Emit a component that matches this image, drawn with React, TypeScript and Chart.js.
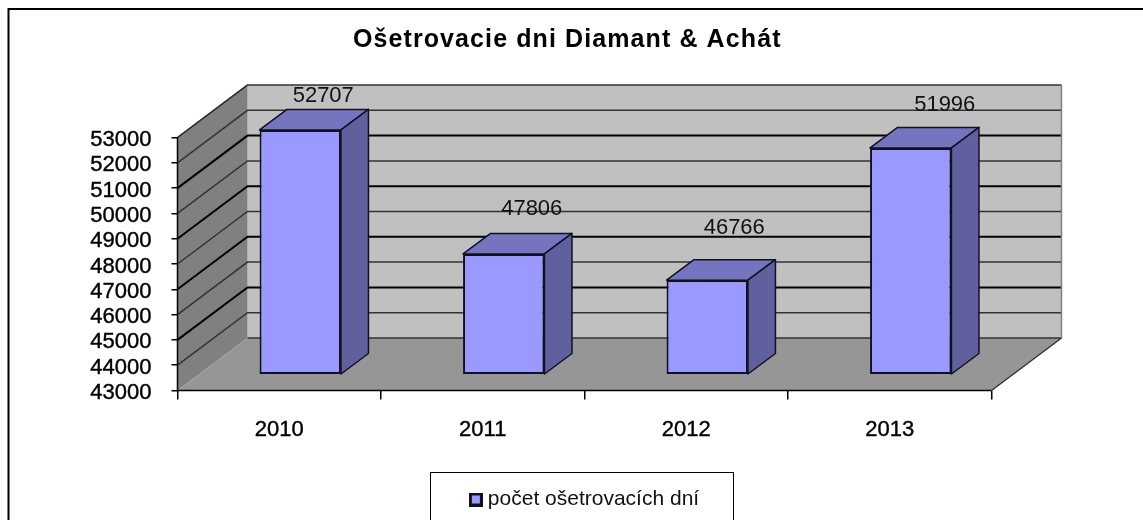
import React, { useEffect, useRef } from "react";
import { Chart, registerables } from "chart.js";

Chart.register(...registerables);

const categories = ["2010", "2011", "2012", "2013"];
const seriesName = "počet ošetrovacích dní";
const seriesValues = [52707, 47806, 46766, 51996];
const titleText = "Ošetrovacie dni Diamant & Achát";
const axisMin = 43000;
const axisMax = 53000;
const axisStep = 1000;

const FONT = "'Liberation Sans', Arial, sans-serif";
const depth = { dx: 70, dy: -52.5 };
const barShift = { dx: 21, dy: -15 };
const barDepth = { dx: 27.5, dy: -20.5 };
const labelNudge = [
  [23, -33.5],
  [28, -45],
  [27, -52],
  [34, -42.5],
];

function legendSwatch() {
  const c = document.createElement("canvas");
  c.width = 14;
  c.height = 14;
  const g = c.getContext("2d") as CanvasRenderingContext2D;
  g.fillStyle = "#111122";
  g.fillRect(0, 0, 14, 14);
  g.fillStyle = "#9999ff";
  g.fillRect(3, 3, 8, 8);
  return c;
}

const scene = {
  id: "scene3d",
  afterLayout(chart: any) {
    // Title and legend sit off the canvas centre in the reference.
    const tb = chart.titleBlock;
    if (tb) {
      tb.left += 71.5;
      tb.right += 71.5;
      if (!tb.__spaced) {
        tb.__spaced = true;
        const draw = tb.draw;
        tb.draw = function (...args: any[]) {
          const c = this.ctx;
          c.letterSpacing = "1.1px";
          draw.apply(this, args);
          c.letterSpacing = "0px";
        };
      }
    }
    if (chart.legend) {
      chart.legend.left += 91;
      chart.legend.right += 91;
    }
  },
  beforeDatasetsDraw(chart: any) {
    const { ctx, chartArea: a, scales } = chart;
    const y = scales.y;
    const { dx, dy } = depth;
    ctx.save();
    // page frame: left and top edges only, the rest runs off the picture
    ctx.strokeStyle = "#000000";
    ctx.lineWidth = 2;
    ctx.beginPath();
    ctx.moveTo(8.5, 530);
    ctx.lineTo(8.5, 9);
    ctx.lineTo(1150, 9);
    ctx.stroke();
    // back wall
    ctx.fillStyle = "#c0c0c0";
    ctx.fillRect(a.left + dx, a.top + dy, a.right - a.left, a.bottom - a.top);
    // side wall
    ctx.fillStyle = "#808080";
    ctx.beginPath();
    ctx.moveTo(a.left, a.top);
    ctx.lineTo(a.left + dx, a.top + dy);
    ctx.lineTo(a.left + dx, a.bottom + dy);
    ctx.lineTo(a.left, a.bottom);
    ctx.closePath();
    ctx.fill();
    // floor
    ctx.fillStyle = "#969696";
    ctx.beginPath();
    ctx.moveTo(a.left, a.bottom);
    ctx.lineTo(a.right, a.bottom);
    ctx.lineTo(a.right + dx, a.bottom + dy);
    ctx.lineTo(a.left + dx, a.bottom + dy);
    ctx.closePath();
    ctx.fill();
    // grid lines
    y.ticks.forEach((t: any) => {
      const py = y.getPixelForValue(t.value);
      const heavy = t.value % 2000 === 1000 && t.value !== axisMax && t.value !== axisMin;
      ctx.strokeStyle = heavy ? "#000000" : "#333333";
      ctx.lineWidth = heavy ? 2 : 1.5;
      ctx.beginPath();
      if (t.value !== axisMin) {
        ctx.moveTo(a.left, py);
        ctx.lineTo(a.left + dx, py + dy);
      } else {
        ctx.moveTo(a.left + dx, py + dy);
      }
      ctx.lineTo(a.right + dx, py + dy);
      ctx.stroke();
    });
    // wall edges
    ctx.strokeStyle = "#808080";
    ctx.lineWidth = 1.5;
    ctx.beginPath();
    ctx.moveTo(a.right + dx, a.top + dy);
    ctx.lineTo(a.right + dx, a.bottom + dy);
    ctx.stroke();
    ctx.strokeStyle = "#333333";
    ctx.beginPath();
    ctx.moveTo(a.right, a.bottom);
    ctx.lineTo(a.right + dx, a.bottom + dy);
    ctx.moveTo(a.left, a.top);
    ctx.lineTo(a.left + dx, a.top + dy);
    ctx.stroke();
    ctx.strokeStyle = "#000000";
    ctx.lineWidth = 1.5;
    ctx.beginPath();
    ctx.moveTo(a.left, a.top);
    ctx.lineTo(a.left, a.bottom);
    ctx.lineTo(a.right, a.bottom);
    ctx.stroke();
    // legend box
    ctx.lineWidth = 1;
    ctx.strokeRect(430.5, 472.5, 303, 60);
    ctx.restore();

    // native bars get drawn one depth step in
    ctx.save();
    ctx.translate(barShift.dx, barShift.dy);
  },
  afterDatasetsDraw(chart: any) {
    const { ctx } = chart;
    ctx.restore();
    const meta = chart.getDatasetMeta(0);
    ctx.save();
    meta.data.forEach((bar: any, i: number) => {
      const half = bar.width / 2;
      const l = bar.x - half + barShift.dx;
      const r = bar.x + half + barShift.dx;
      const t = bar.y + barShift.dy;
      const b = bar.base + barShift.dy;
      const { dx, dy } = barDepth;
      ctx.lineWidth = 1.5;
      ctx.strokeStyle = "#111122";
      ctx.lineJoin = "round";
      ctx.fillStyle = "#7575bf";
      ctx.beginPath();
      ctx.moveTo(l, t);
      ctx.lineTo(l + dx, t + dy);
      ctx.lineTo(r + dx, t + dy);
      ctx.lineTo(r, t);
      ctx.closePath();
      ctx.fill();
      ctx.stroke();
      ctx.fillStyle = "#60609f";
      ctx.beginPath();
      ctx.moveTo(r, t);
      ctx.lineTo(r + dx, t + dy);
      ctx.lineTo(r + dx, b + dy);
      ctx.lineTo(r, b);
      ctx.closePath();
      ctx.fill();
      ctx.stroke();
      // value label
      ctx.fillStyle = "#111111";
      ctx.font = `22px ${FONT}`;
      ctx.textAlign = "center";
      ctx.textBaseline = "middle";
      ctx.fillText(
        String(seriesValues[i]),
        bar.x + barShift.dx + labelNudge[i][0],
        t + labelNudge[i][1]
      );
    });
    ctx.restore();
  },
};

export default function App() {
  const ref = useRef<HTMLCanvasElement>(null);
  useEffect(() => {
    const chart = new Chart(ref.current as HTMLCanvasElement, {
      type: "bar",
      data: {
        labels: categories,
        datasets: [
          {
            label: seriesName,
            data: seriesValues,
            base: 43060,
            backgroundColor: "#9999ff",
            borderColor: "#111122",
            borderWidth: 2,
            borderSkipped: false,
            categoryPercentage: 1,
            barPercentage: 0.4,
            clip: false,
          } as any,
        ],
      },
      plugins: [scene],
      options: {
        animation: false,
        responsive: false,
        layout: { padding: { top: 0, right: 151.5, bottom: 0, left: 0 } },
        scales: {
          x: {
            afterFit(s: any) {
              s.height = 129.5 - (s.chart.legend ? s.chart.legend.height : 0);
            },
            border: { display: false },
            grid: { drawOnChartArea: false, drawTicks: true, tickLength: 9, color: "#000000", lineWidth: 1.5 },
            ticks: {
              color: "#000000",
              padding: 17,
              font: { family: FONT, size: 22 },
              textStrokeWidth: 0.4,
              textStrokeColor: "#000000",
              maxRotation: 0,
            } as any,
          },
          y: {
            min: axisMin,
            max: axisMax,
            afterFit(s: any) {
              s.width = 177.5;
            },
            border: { display: false },
            grid: { drawOnChartArea: false, drawTicks: true, tickLength: 6, color: "#000000", lineWidth: 1.5 },
            ticks: {
              stepSize: axisStep,
              color: "#000000",
              padding: 20,
              labelOffset: 2.5,
              autoSkip: false,
              font: { family: FONT, size: 22 },
              textStrokeWidth: 0.4,
              textStrokeColor: "#000000",
              callback: (v: any) => String(v),
            } as any,
          },
        },
        plugins: {
          tooltip: { enabled: false },
          title: {
            display: true,
            text: titleText,
            color: "#000000",
            font: { family: FONT, size: 25, weight: "bold" },
            padding: { top: 25, bottom: 82.5 },
          },
          legend: {
            display: true,
            position: "bottom",
            labels: {
              color: "#111111",
              usePointStyle: true,
              pointStyle: legendSwatch(),
              pointStyleWidth: 3,
              boxWidth: 12,
              boxHeight: 12,
              font: { family: FONT, size: 21 },
            },
          },
        },
      },
    } as any);
    return () => chart.destroy();
  }, []);
  return (
    <div style={{ position: "fixed", left: 0, top: 0, width: 1143, height: 520, overflow: "hidden", background: "#fff" }}>
      <canvas ref={ref} width={1143} height={520} style={{ display: "block", width: 1143, height: 520 }} />
    </div>
  );
}
